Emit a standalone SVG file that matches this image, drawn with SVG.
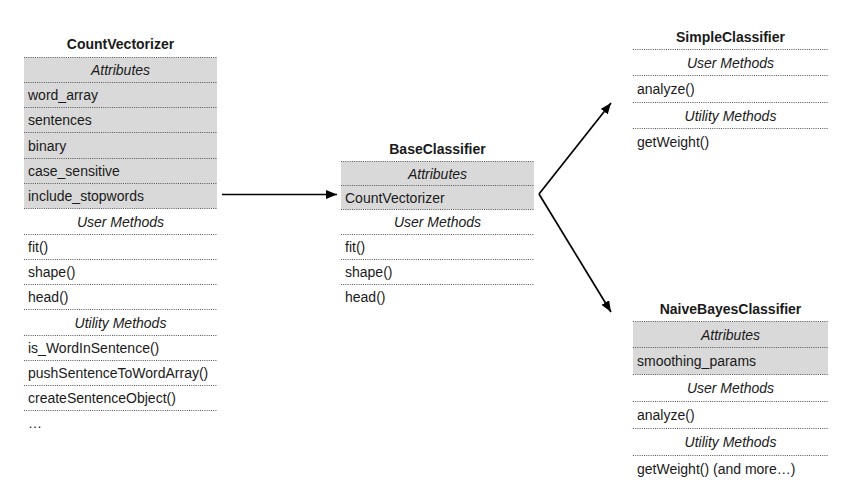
<svg xmlns="http://www.w3.org/2000/svg" width="849" height="496" viewBox="0 0 849 496">
<style>
text{font-family:"Liberation Sans",Arial,sans-serif;font-size:14px;fill:#1a1a1a}
.t{font-weight:bold;text-anchor:middle}
.h{font-style:italic;text-anchor:middle}
.d{stroke:#555;stroke-width:1;stroke-dasharray:1 1.2;fill:none}
.g{fill:#d9d9d9;stroke:none}
.c{stroke:#000;stroke-width:1.7;fill:none}
</style>
<defs>
<marker id="ah" markerUnits="userSpaceOnUse" markerWidth="11" markerHeight="9" refX="11" refY="4.5" orient="auto">
<path d="M0,0 L11,4.5 L0,9 z" fill="#000"/>
</marker>
</defs>
<rect width="849" height="496" fill="#fff"/>

<g id="CountVectorizer">
<rect class="g" x="24" y="57.5" width="193" height="151"/>
<text class="t" x="120.5" y="49">CountVectorizer</text>
<path class="d" d="M24,57.5H217M24,82.5H217M24,107.5H217M24,132.5H217M24,158.5H217M24,183.5H217M24,208.5H217M24,234.5H217M24,259.5H217M24,284.5H217M24,309.5H217M24,335.5H217M24,360.5H217M24,385.5H217M24,410.5H217"/>
<text class="h" x="120.5" y="75">Attributes</text>
<text x="28" y="100">word_array</text>
<text x="28" y="125">sentences</text>
<text x="28" y="150.5">binary</text>
<text x="28" y="176">case_sensitive</text>
<text x="28" y="201">include_stopwords</text>
<text class="h" x="120.5" y="226.5">User Methods</text>
<text x="28" y="252">fit()</text>
<text x="28" y="277">shape()</text>
<text x="28" y="302">head()</text>
<text class="h" x="120.5" y="327.5">Utility Methods</text>
<text x="28" y="353">is_WordInSentence()</text>
<text x="28" y="378">pushSentenceToWordArray()</text>
<text x="28" y="403">createSentenceObject()</text>
<text x="28" y="428">…</text>
</g>

<g id="BaseClassifier">
<rect class="g" x="341" y="161.5" width="193" height="48"/>
<text class="t" x="437.5" y="154">BaseClassifier</text>
<path class="d" d="M341,161.5H534M341,185.5H534M341,209.5H534M341,234.5H534M341,259.5H534M341,284.5H534"/>
<text class="h" x="437.5" y="178.5">Attributes</text>
<text x="345" y="202.5">CountVectorizer</text>
<text class="h" x="437.5" y="227">User Methods</text>
<text x="345" y="252">fit()</text>
<text x="345" y="277">shape()</text>
<text x="345" y="301.5">head()</text>
</g>

<g id="SimpleClassifier">
<text class="t" x="730.5" y="42">SimpleClassifier</text>
<path class="d" d="M633,49.5H828M633,75.5H828M633,102.5H828M633,128.5H828"/>
<text class="h" x="730.5" y="67.5">User Methods</text>
<text x="637" y="94">analyze()</text>
<text class="h" x="730.5" y="120.5">Utility Methods</text>
<text x="637" y="146.5">getWeight()</text>
</g>

<g id="NaiveBayesClassifier">
<rect class="g" x="633" y="321.5" width="195" height="53"/>
<text class="t" x="730.5" y="314">NaiveBayesClassifier</text>
<path class="d" d="M633,321.5H828M633,347.5H828M633,374.5H828M633,401.5H828M633,428.5H828M633,455.5H828"/>
<text class="h" x="730.5" y="339.5">Attributes</text>
<text x="637" y="366">smoothing_params</text>
<text class="h" x="730.5" y="393">User Methods</text>
<text x="637" y="420">analyze()</text>
<text class="h" x="730.5" y="447">Utility Methods</text>
<text x="637" y="473.5">getWeight() (and more…)</text>
</g>

<g id="connectors">
<path class="c" d="M222,194.5H337" marker-end="url(#ah)"/>
<path class="c" d="M539,194L611,103" marker-end="url(#ah)"/>
<path class="c" d="M539,194L611,312" marker-end="url(#ah)"/>
</g>
</svg>
